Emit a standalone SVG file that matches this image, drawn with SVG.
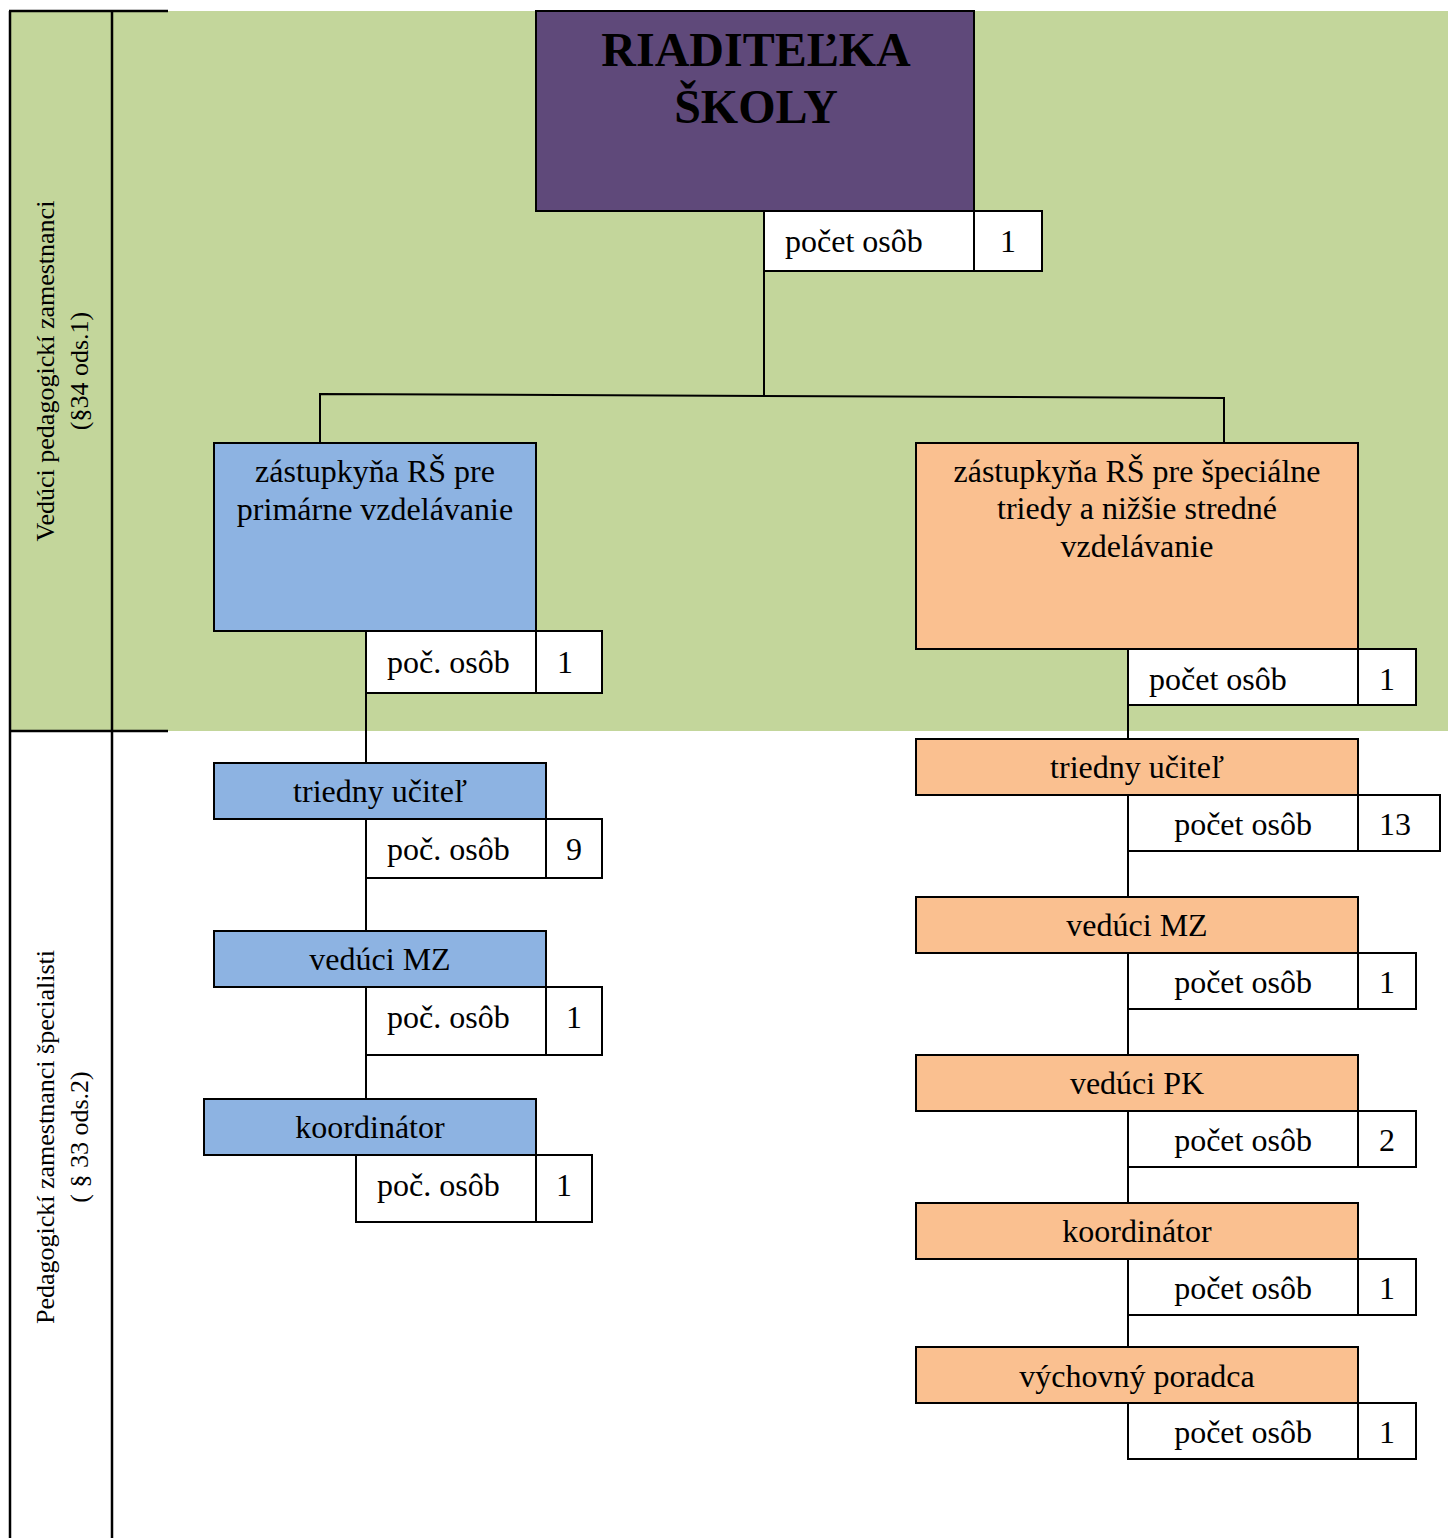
<svg xmlns="http://www.w3.org/2000/svg" width="1448" height="1538" viewBox="0 0 1448 1538">
<style>
text{font-family:"Liberation Serif","Times New Roman",serif;fill:#000}
.t{font-size:32px}
.c{text-anchor:middle}
.title{font-size:48px;font-weight:bold;text-anchor:middle}
.side{font-size:26px;text-anchor:middle}
.box{stroke:#000;stroke-width:2}
.w{fill:#fff}
.p{fill:#5F497A}
.b{fill:#8DB3E2}
.o{fill:#FAC090}
.ln{stroke:#000;stroke-width:2;fill:none}
.frame{stroke:#000;stroke-width:2.5;fill:none}
</style>
<rect x="10" y="11" width="1438" height="720" fill="#C3D69B"/>
<g id="frame">
<line class="frame" x1="10" y1="11" x2="10" y2="1538"/>
<line class="frame" x1="112" y1="11" x2="112" y2="1538"/>
<line class="frame" x1="9" y1="11" x2="168" y2="11"/>
<line class="frame" x1="10" y1="731" x2="168" y2="731"/>
</g>
<g id="label-top">
<text class="side" transform="translate(54,371) rotate(-90)">Vedúci pedagogickí zamestnanci</text>
<text class="side" transform="translate(88,371) rotate(-90)">(§34 ods.1)</text>
</g>
<g id="label-bottom">
<text class="side" transform="translate(54,1137) rotate(-90)">Pedagogickí zamestnanci špecialisti</text>
<text class="side" transform="translate(88,1137) rotate(-90)">( § 33 ods.2)</text>
</g>
<g id="connectors">
<line class="ln" x1="764" y1="271" x2="764" y2="396"/>
<polyline class="ln" points="320,443 320,394 1224,398 1224,443"/>
<line class="ln" x1="366" y1="693" x2="366" y2="763"/>
<line class="ln" x1="366" y1="878" x2="366" y2="931"/>
<line class="ln" x1="366" y1="1055" x2="366" y2="1099"/>
<line class="ln" x1="1128" y1="705" x2="1128" y2="739"/>
<line class="ln" x1="1128" y1="851" x2="1128" y2="897"/>
<line class="ln" x1="1128" y1="1009" x2="1128" y2="1055"/>
<line class="ln" x1="1128" y1="1167" x2="1128" y2="1203"/>
<line class="ln" x1="1128" y1="1315" x2="1128" y2="1347"/>
</g>
<g id="riaditelka">
<rect class="box p" x="536" y="11" width="438" height="200"/>
<text class="title" x="756" y="66">RIADITEĽKA</text>
<text class="title" x="756" y="123">ŠKOLY</text>
<rect class="box w" x="764" y="211" width="210" height="60"/>
<text class="t" x="785" y="252">počet osôb</text>
<rect class="box w" x="974" y="211" width="68" height="60"/>
<text class="t c" x="1008" y="252">1</text>
</g>
<g id="zastupkyna-primarne">
<rect class="box b" x="214" y="443" width="322" height="188"/>
<text class="t c" x="375" y="482">zástupkyňa RŠ pre</text>
<text class="t c" x="375" y="520">primárne vzdelávanie</text>
<rect class="box w" x="366" y="631" width="170" height="62"/>
<text class="t" x="387" y="673">poč. osôb</text>
<rect class="box w" x="536" y="631" width="66" height="62"/>
<text class="t c" x="565" y="673">1</text>
</g>
<g id="left-triedny">
<rect class="box b" x="214" y="763" width="332" height="56"/>
<text class="t c" x="380" y="802">triedny učiteľ</text>
<rect class="box w" x="366" y="819" width="180" height="59"/>
<text class="t" x="387" y="860">poč. osôb</text>
<rect class="box w" x="546" y="819" width="56" height="59"/>
<text class="t c" x="574" y="860">9</text>
</g>
<g id="left-veduci-mz">
<rect class="box b" x="214" y="931" width="332" height="56"/>
<text class="t c" x="380" y="970">vedúci MZ</text>
<rect class="box w" x="366" y="987" width="180" height="68"/>
<text class="t" x="387" y="1028">poč. osôb</text>
<rect class="box w" x="546" y="987" width="56" height="68"/>
<text class="t c" x="574" y="1028">1</text>
</g>
<g id="left-koordinator">
<rect class="box b" x="204" y="1099" width="332" height="56"/>
<text class="t c" x="370" y="1138">koordinátor</text>
<rect class="box w" x="356" y="1155" width="180" height="67"/>
<text class="t" x="377" y="1196">poč. osôb</text>
<rect class="box w" x="536" y="1155" width="56" height="67"/>
<text class="t c" x="564" y="1196">1</text>
</g>
<g id="zastupkyna-specialne">
<rect class="box o" x="916" y="443" width="442" height="206"/>
<text class="t c" x="1137" y="482">zástupkyňa RŠ pre špeciálne</text>
<text class="t c" x="1137" y="519">triedy a nižšie stredné</text>
<text class="t c" x="1137" y="557">vzdelávanie</text>
<rect class="box w" x="1128" y="649" width="230" height="56"/>
<text class="t" x="1149" y="690">počet osôb</text>
<rect class="box w" x="1358" y="649" width="58" height="56"/>
<text class="t c" x="1387" y="690">1</text>
</g>
<g id="right-triedny">
<rect class="box o" x="916" y="739" width="442" height="56"/>
<text class="t c" x="1137" y="778">triedny učiteľ</text>
<rect class="box w" x="1128" y="795" width="230" height="56"/>
<text class="t c" x="1243" y="835">počet osôb</text>
<rect class="box w" x="1358" y="795" width="82" height="56"/>
<text class="t c" x="1395" y="835">13</text>
</g>
<g id="right-veduci-mz">
<rect class="box o" x="916" y="897" width="442" height="56"/>
<text class="t c" x="1137" y="936">vedúci MZ</text>
<rect class="box w" x="1128" y="953" width="230" height="56"/>
<text class="t c" x="1243" y="993">počet osôb</text>
<rect class="box w" x="1358" y="953" width="58" height="56"/>
<text class="t c" x="1387" y="993">1</text>
</g>
<g id="right-veduci-pk">
<rect class="box o" x="916" y="1055" width="442" height="56"/>
<text class="t c" x="1137" y="1094">vedúci PK</text>
<rect class="box w" x="1128" y="1111" width="230" height="56"/>
<text class="t c" x="1243" y="1151">počet osôb</text>
<rect class="box w" x="1358" y="1111" width="58" height="56"/>
<text class="t c" x="1387" y="1151">2</text>
</g>
<g id="right-koordinator">
<rect class="box o" x="916" y="1203" width="442" height="56"/>
<text class="t c" x="1137" y="1242">koordinátor</text>
<rect class="box w" x="1128" y="1259" width="230" height="56"/>
<text class="t c" x="1243" y="1299">počet osôb</text>
<rect class="box w" x="1358" y="1259" width="58" height="56"/>
<text class="t c" x="1387" y="1299">1</text>
</g>
<g id="right-vychovny">
<rect class="box o" x="916" y="1347" width="442" height="56"/>
<text class="t c" x="1137" y="1387">výchovný poradca</text>
<rect class="box w" x="1128" y="1403" width="230" height="56"/>
<text class="t c" x="1243" y="1443">počet osôb</text>
<rect class="box w" x="1358" y="1403" width="58" height="56"/>
<text class="t c" x="1387" y="1443">1</text>
</g>
</svg>
